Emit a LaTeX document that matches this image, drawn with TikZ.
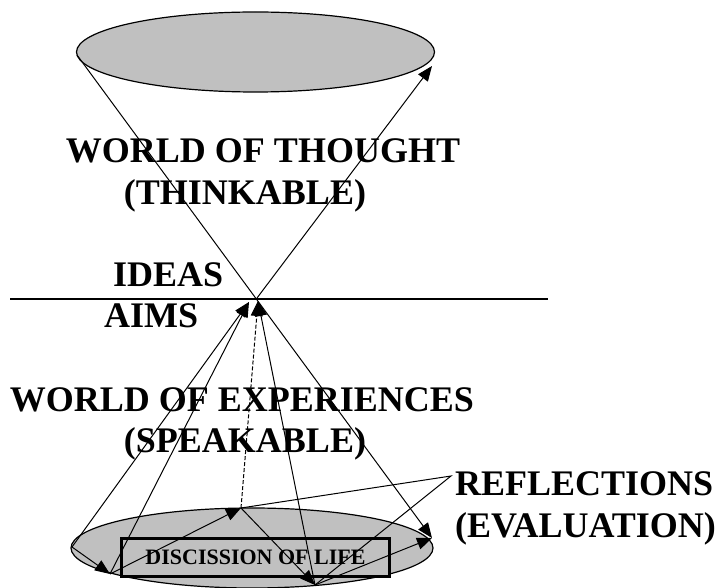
\documentclass[tikz,border=0pt]{standalone}
\usepackage{fontspec}
\setmainfont{Liberation Serif}
\usetikzlibrary{arrows.meta}
\definecolor{shade}{HTML}{C0C0C0}
\begin{document}
\begin{tikzpicture}[x=1pt,y=-1pt,
  lbl/.style={inner sep=0pt,font=\fontsize{36}{40}\selectfont\bfseries},
  thin line/.style={line width=1pt},
  arr/.style={thin line,-{Triangle[length=15pt,width=12pt]}},
  disc/.style={fill=shade,draw=black,line width=1.2pt}]
\useasboundingbox (0,0) rectangle (724,588);

% the two discs
\fill[disc] (255.5,52) ellipse [x radius=179, y radius=40];
\fill[disc] (252,548) ellipse [x radius=181, y radius=40];

% dividing line between the two worlds
\draw[line width=2.2pt] (10,299) coordinate (hl) -- (548,299) coordinate (hr);

% framed theme on the lower disc
\node[draw=black,fill=shade,line width=2.5pt,minimum width=268pt,minimum height=38pt,
      inner sep=0pt,font=\fontsize{22}{24}\selectfont\bfseries] (life) at (255.5,557.5)
      {DISCISSION OF LIFE};

% points of the cones
\coordinate (TL) at (77,55);
\coordinate (TR) at (432,66);
\coordinate (X)  at (257,298);
\coordinate (L1) at (249,302);
\coordinate (R1) at (258,301);
\coordinate (A)  at (72,547);
\coordinate (B)  at (110,574);
\coordinate (C)  at (241,508);
\coordinate (D)  at (315,585);
\coordinate (E)  at (432,538);
\coordinate (R)  at (451,476);

% upper cone, crossing at the dividing line
\draw[arr] (TL) -- (E);
\draw[arr] (X) -- (TR);

% lines rising from the experiences
\draw[arr] (A) -- (L1);
\draw[arr] (B) -- (L1);
\draw[arr,dashed,dash pattern=on 4pt off 2pt] (C) -- (R1);
\draw[arr] (D) -- (R1);

% cycle on the lower disc
\draw[arr] (A) -- (B);
\draw[arr] (B) -- (C);
\draw[arr] (C) -- (D);
\draw[arr] (D) -- (E);

% reflections
\draw[thin line] (C) -- (R) -- (D);

% labels
\node[lbl,anchor=base] (thought) at (263,163) {WORLD OF THOUGHT};
\node[lbl,anchor=base] (think) at (245,205) {(THINKABLE)};
\node[lbl,anchor=base west] (ideas) at (113,287) {IDEAS};
\node[lbl,anchor=base west] (aims) at (104,328) {AIMS};
\node[lbl,anchor=base] (exper) at (242,412) {WORLD OF EXPERIENCES};
\node[lbl,anchor=base] (speak) at (245,453) {(SPEAKABLE)};
\node[lbl,anchor=base west] (refl) at (455,496) {REFLECTIONS};
\node[lbl,anchor=base west] (eval) at (455,537) {(EVALUATION)};
\end{tikzpicture}
\end{document}
